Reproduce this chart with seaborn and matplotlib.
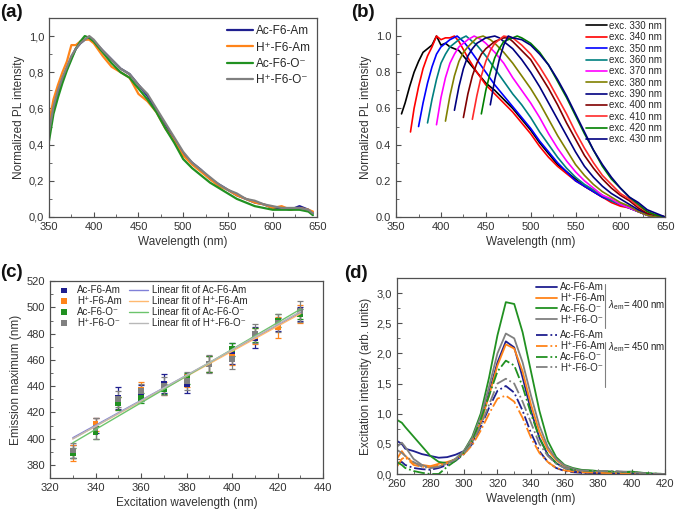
import matplotlib

matplotlib.use('Agg')

import matplotlib.pyplot as plt
from matplotlib.lines import Line2D
from matplotlib.ticker import FuncFormatter, MultipleLocator
import seaborn as sns

# ---------------- panel (a): normalized PL spectra ----------------
wl_a = [350, 355, 360, 365, 370, 375, 380, 385, 390, 395, 400, 410, 420, 430, 440, 450,
        460, 470, 480, 490, 500, 510, 520, 530, 540, 550, 560, 570, 580, 590, 600, 610,
        620, 630, 640, 645]
a_ac_am = [0.46, 0.60, 0.69, 0.76, 0.82, 0.88, 0.93, 0.96, 0.98, 0.99, 0.97, 0.92, 0.87, 0.82,
           0.79, 0.73, 0.67, 0.59, 0.51, 0.43, 0.35, 0.30, 0.26, 0.21, 0.18, 0.15, 0.12, 0.10,
           0.08, 0.07, 0.05, 0.05, 0.04, 0.06, 0.04, 0.02]
a_h_am = [0.52, 0.65, 0.73, 0.80, 0.86, 0.95, 0.95, 0.97, 0.98, 0.98, 0.96, 0.89, 0.83, 0.80,
          0.77, 0.68, 0.64, 0.58, 0.49, 0.42, 0.34, 0.29, 0.25, 0.21, 0.17, 0.15, 0.12, 0.10,
          0.08, 0.07, 0.05, 0.06, 0.04, 0.05, 0.04, 0.03]
a_ac_o = [0.42, 0.57, 0.66, 0.74, 0.81, 0.87, 0.93, 0.97, 1.00, 0.99, 0.97, 0.91, 0.85, 0.80,
          0.77, 0.71, 0.65, 0.58, 0.49, 0.41, 0.32, 0.27, 0.23, 0.19, 0.16, 0.13, 0.10, 0.08,
          0.06, 0.05, 0.04, 0.04, 0.04, 0.04, 0.03, 0.01]
a_h_o = [0.47, 0.61, 0.70, 0.77, 0.83, 0.89, 0.93, 0.96, 0.98, 1.00, 0.98, 0.92, 0.87, 0.82,
         0.79, 0.73, 0.68, 0.60, 0.52, 0.44, 0.36, 0.30, 0.26, 0.22, 0.18, 0.15, 0.13, 0.10,
         0.09, 0.07, 0.06, 0.05, 0.05, 0.05, 0.04, 0.02]

# ---------------- panel (b): spectra vs excitation ----------------
b_exc = [330, 340, 350, 360, 370, 380, 390, 400, 410, 420, 430]
b_wl_330 = [356, 360, 365, 370, 375, 380, 385, 390, 395, 400, 405, 410, 420, 430, 440, 450, 460,
            470, 480, 490, 500, 510, 520, 530, 540, 550, 560, 570, 580, 590, 600, 610, 620, 630,
            640, 650]
b_int_330 = [0.57, 0.63, 0.72, 0.80, 0.86, 0.91, 0.93, 0.95, 1.00, 0.95, 0.96, 0.94, 0.92, 0.86,
             0.80, 0.74, 0.70, 0.65, 0.60, 0.54, 0.48, 0.41, 0.35, 0.29, 0.25, 0.21, 0.17, 0.14,
             0.11, 0.09, 0.07, 0.05, 0.03, 0.01, 0.00, 0.00]
b_wl_340 = [366, 370, 375, 380, 385, 390, 395, 400, 405, 410, 415, 420, 430, 440, 450, 460, 470,
            480, 490, 500, 510, 520, 530, 540, 550, 560, 570, 580, 590, 600, 610, 620, 630, 640,
            650]
b_int_340 = [0.47, 0.60, 0.72, 0.82, 0.89, 0.94, 1.00, 0.98, 0.99, 0.99, 1.00, 0.97, 0.88, 0.80,
             0.73, 0.68, 0.63, 0.58, 0.52, 0.46, 0.39, 0.33, 0.28, 0.24, 0.20, 0.17, 0.14, 0.11,
             0.08, 0.06, 0.05, 0.03, 0.01, 0.01, 0.00]
b_wl_350 = [375, 380, 385, 390, 395, 400, 410, 418, 425, 430, 440, 450, 460, 470, 480, 490, 500,
            510, 520, 530, 540, 550, 560, 570, 580, 590, 600, 610, 620, 630, 640, 650]
b_int_350 = [0.50, 0.63, 0.74, 0.83, 0.90, 0.94, 0.98, 1.00, 0.97, 0.94, 0.87, 0.80, 0.73, 0.67,
             0.61, 0.55, 0.49, 0.42, 0.36, 0.30, 0.25, 0.20, 0.17, 0.14, 0.11, 0.09, 0.07, 0.05,
             0.03, 0.01, 0.00, 0.00]
b_wl_360 = [385, 390, 395, 400, 405, 410, 420, 428, 435, 440, 450, 460, 470, 480, 490, 500, 510,
            520, 530, 540, 550, 560, 570, 580, 590, 600, 610, 620, 630, 640, 650]
b_int_360 = [0.52, 0.65, 0.76, 0.85, 0.90, 0.94, 0.98, 1.00, 0.97, 0.95, 0.89, 0.82, 0.75, 0.68,
             0.62, 0.55, 0.47, 0.40, 0.33, 0.27, 0.22, 0.18, 0.15, 0.12, 0.09, 0.07, 0.05, 0.03,
             0.01, 0.00, 0.00]
b_wl_370 = [395, 400, 405, 410, 415, 420, 430, 437, 445, 450, 460, 470, 480, 490, 500, 510, 520,
            530, 540, 550, 560, 570, 580, 590, 600, 610, 620, 630, 640, 650]
b_int_370 = [0.51, 0.66, 0.77, 0.85, 0.90, 0.94, 0.98, 1.00, 0.98, 0.96, 0.91, 0.85, 0.77, 0.70,
             0.63, 0.55, 0.46, 0.38, 0.31, 0.25, 0.20, 0.16, 0.12, 0.10, 0.07, 0.05, 0.03, 0.01,
             0.00, 0.00]
b_wl_380 = [405, 410, 415, 420, 425, 430, 440, 447, 455, 460, 470, 480, 490, 500, 510, 520, 530,
            540, 550, 560, 570, 580, 590, 600, 610, 620, 630, 640, 650]
b_int_380 = [0.53, 0.67, 0.78, 0.86, 0.91, 0.94, 0.99, 1.00, 0.98, 0.96, 0.91, 0.85, 0.78, 0.71,
             0.63, 0.54, 0.45, 0.37, 0.29, 0.23, 0.18, 0.14, 0.11, 0.08, 0.06, 0.03, 0.01, 0.00,
             0.00]
b_wl_390 = [415, 420, 425, 430, 435, 440, 450, 460, 465, 470, 480, 490, 500, 510, 520, 530, 540,
            550, 560, 570, 580, 590, 600, 610, 620, 630, 640, 650]
b_int_390 = [0.59, 0.72, 0.82, 0.89, 0.93, 0.96, 0.99, 1.00, 0.99, 0.97, 0.93, 0.87, 0.80, 0.72,
             0.63, 0.54, 0.45, 0.36, 0.28, 0.22, 0.17, 0.13, 0.10, 0.07, 0.04, 0.02, 0.01, 0.00]
b_wl_400 = [425, 430, 435, 440, 445, 450, 460, 470, 475, 480, 490, 500, 510, 520, 530, 540, 550,
            560, 570, 580, 590, 600, 610, 620, 630, 640, 650]
b_int_400 = [0.55, 0.68, 0.78, 0.85, 0.90, 0.93, 0.97, 0.99, 0.99, 0.97, 0.92, 0.87, 0.79, 0.71,
             0.62, 0.52, 0.43, 0.34, 0.27, 0.21, 0.16, 0.12, 0.09, 0.05, 0.02, 0.01, 0.00]
b_wl_410 = [435, 440, 445, 450, 455, 460, 470, 480, 490, 500, 510, 520, 530, 540, 550, 560, 570,
            580, 590, 600, 610, 620, 630, 640, 650]
b_int_410 = [0.54, 0.67, 0.78, 0.86, 0.92, 0.96, 1.00, 0.99, 0.95, 0.90, 0.83, 0.75, 0.66, 0.57,
             0.47, 0.38, 0.30, 0.23, 0.18, 0.13, 0.10, 0.06, 0.03, 0.01, 0.00]
b_wl_420 = [445, 450, 455, 460, 465, 470, 480, 485, 490, 500, 510, 520, 530, 540, 550, 560, 570,
            580, 590, 600, 610, 620, 630, 640, 650]
b_int_420 = [0.57, 0.70, 0.80, 0.88, 0.93, 0.97, 0.99, 1.00, 0.99, 0.96, 0.91, 0.84, 0.75, 0.66,
             0.56, 0.46, 0.37, 0.28, 0.21, 0.16, 0.11, 0.07, 0.03, 0.01, 0.00]
b_wl_430 = [455, 460, 465, 470, 475, 480, 490, 500, 510, 520, 530, 540, 550, 560, 570, 580, 590,
            600, 610, 620, 630, 640, 650]
b_int_430 = [0.62, 0.76, 0.87, 0.95, 1.00, 0.99, 0.98, 0.95, 0.90, 0.84, 0.76, 0.67, 0.57, 0.47,
             0.37, 0.29, 0.22, 0.16, 0.11, 0.08, 0.04, 0.02, 0.00]
b_colors = ['#000000', '#ff0000', '#0000ff', '#008080', '#ff00ff', '#808000', '#000080',
            '#800000', '#ff2a2a', '#008000', '#000080']

# ---------------- panel (c): emission maximum vs excitation ----------------
exc_c = [330, 340, 350, 360, 370, 380, 390, 400, 410, 420, 430]
c_ac_am = [390, 410, 431, 435, 442, 442, 457, 465, 477, 487, 495]
c_ac_am_err = [5, 6, 8, 6, 7, 7, 6, 8, 8, 5, 5]
c_h_am = [389, 411, 427, 437, 438, 444, 457, 462, 478, 485, 495]
c_h_am_err = [6, 5, 5, 6, 5, 5, 6, 6, 6, 8, 7]
c_ac_o = [389, 405, 427, 431, 438, 446, 457, 468, 479, 490, 495]
c_ac_o_err = [4, 5, 5, 4, 4, 4, 6, 5, 5, 5, 4]
c_h_o = [391, 408, 430, 436, 440, 444, 457, 461, 480, 488, 497]
c_h_o_err = [6, 8, 6, 6, 7, 7, 7, 8, 7, 7, 8]

# ---------------- panel (d): excitation spectra ----------------
wl_d = [260, 263, 265, 270, 275, 280, 285, 290, 295, 300, 305, 310, 315, 320, 325, 330, 335,
        340, 345, 350, 355, 360, 365, 370, 380, 390, 400, 410, 420]
d400_ac_am = [0.55, 0.50, 0.42, 0.38, 0.33, 0.30, 0.27, 0.28, 0.32, 0.38, 0.55, 0.85, 1.35, 1.85,
              2.20, 2.10, 1.60, 1.05, 0.60, 0.32, 0.18, 0.10, 0.06, 0.03, 0.00, 0.00, 0.01, 0.00,
              0.00]
d400_h_am = [0.25, 0.38, 0.30, 0.18, 0.15, 0.13, 0.17, 0.20, 0.24, 0.35, 0.55, 0.85, 1.30, 1.80,
             2.15, 2.08, 1.70, 1.15, 0.70, 0.40, 0.23, 0.13, 0.08, 0.05, 0.03, 0.02, 0.01, 0.00,
             0.00]
d400_ac_o = [0.90, 0.85, 0.78, 0.62, 0.46, 0.30, 0.20, 0.18, 0.25, 0.38, 0.62, 1.00, 1.60, 2.30,
             2.85, 2.82, 2.35, 1.70, 1.05, 0.55, 0.28, 0.15, 0.10, 0.07, 0.05, 0.03, 0.04, 0.01,
             0.00]
d400_h_o = [0.45, 0.52, 0.45, 0.25, 0.15, 0.10, 0.12, 0.18, 0.25, 0.38, 0.60, 0.95, 1.45, 2.00,
            2.33, 2.25, 1.85, 1.30, 0.80, 0.45, 0.25, 0.14, 0.09, 0.05, 0.03, 0.02, 0.01, 0.00,
            0.00]
d450_ac_am = [0.18, 0.20, 0.15, 0.10, 0.08, 0.07, 0.10, 0.15, 0.22, 0.33, 0.50, 0.78, 1.10, 1.38,
              1.46, 1.35, 1.05, 0.68, 0.38, 0.20, 0.10, 0.05, 0.03, 0.02, 0.01, 0.00, 0.00, 0.00,
              0.00]
d450_h_am = [0.12, 0.25, 0.28, 0.15, 0.12, 0.12, 0.14, 0.18, 0.24, 0.33, 0.48, 0.72, 1.00, 1.25,
             1.30, 1.20, 0.93, 0.60, 0.35, 0.20, 0.10, 0.06, 0.04, 0.03, 0.02, 0.01, 0.00, 0.00,
             0.00]
d450_ac_o = [0.20, 0.15, 0.10, 0.05, 0.02, 0.00, 0.00, 0.12, 0.22, 0.35, 0.55, 0.90, 1.30, 1.70,
             1.88, 1.80, 1.45, 1.00, 0.60, 0.33, 0.18, 0.10, 0.07, 0.06, 0.05, 0.04, 0.03, 0.01,
             0.00]
d450_h_o = [0.40, 0.35, 0.30, 0.20, 0.12, 0.10, 0.12, 0.17, 0.24, 0.35, 0.52, 0.80, 1.15, 1.50,
            1.58, 1.50, 1.20, 0.85, 0.50, 0.30, 0.17, 0.10, 0.07, 0.06, 0.05, 0.05, 0.03, 0.01,
            0.00]

labels = ['Ac-F6-Am', 'H\u207a-F6-Am', 'Ac-F6-O\u207b', 'H\u207a-F6-O\u207b']
colors = ['#1f1f8f', '#ff8419', '#219121', '#808080']
fit_colors = ['#8080d8', '#ffb970', '#6cc46c', '#b8b8b8']


def comma(v, pos):
    return f'{v:.1f}'.replace('.', ',')


def style_axes(ax):
    for sp in ax.spines.values():
        sp.set_color('#505050')
        sp.set_linewidth(0.9)
    ax.tick_params(which='both', direction='in', colors='#505050', labelcolor='#333333',
                   labelsize=8, top=False, right=False)
    ax.tick_params(which='major', length=3.5, width=0.8)
    ax.tick_params(which='minor', length=2, width=0.6)


def main() -> None:
    sns.set_theme(style='ticks')
    plt.rcParams['font.family'] = ['Liberation Sans', 'DejaVu Sans']
    plt.rcParams['mathtext.fontset'] = 'custom'
    plt.rcParams['mathtext.rm'] = 'Liberation Sans'
    plt.rcParams['mathtext.it'] = 'Liberation Sans:italic'
    plt.rcParams['axes.labelcolor'] = '#333333'

    fig = plt.figure(figsize=(6.76, 5.13), dpi=100)
    ax_a = fig.add_axes([0.0725, 0.577, 0.397, 0.388])
    ax_b = fig.add_axes([0.586, 0.577, 0.398, 0.388])
    ax_c = fig.add_axes([0.074, 0.068, 0.404, 0.384])
    ax_d = fig.add_axes([0.587, 0.076, 0.397, 0.382])

    # (a)
    for vals, col, lab in zip([a_ac_am, a_h_am, a_ac_o, a_h_o], colors, labels):
        sns.lineplot(x=wl_a, y=vals, color=col, lw=1.6, label=lab, ax=ax_a)
    ax_a.set_xlim(350, 650)
    ax_a.set_ylim(0, 1.1)
    ax_a.xaxis.set_major_locator(MultipleLocator(50))
    ax_a.xaxis.set_minor_locator(MultipleLocator(25))
    ax_a.yaxis.set_major_locator(MultipleLocator(0.2))
    ax_a.yaxis.set_minor_locator(MultipleLocator(0.1))
    ax_a.yaxis.set_major_formatter(FuncFormatter(comma))
    ax_a.set_xlabel('Wavelength (nm)', fontsize=8.5, labelpad=3)
    ax_a.set_ylabel('Normalized PL intensity', fontsize=8.5, labelpad=3)
    ax_a.legend(loc='upper right', frameon=False, fontsize=8.5, handlelength=2.2,
                handletextpad=0.3, labelspacing=0.38, borderaxespad=0.2)
    style_axes(ax_a)

    # (b)
    b_wls = [b_wl_330, b_wl_340, b_wl_350, b_wl_360, b_wl_370, b_wl_380, b_wl_390,
             b_wl_400, b_wl_410, b_wl_420, b_wl_430]
    b_ints = [b_int_330, b_int_340, b_int_350, b_int_360, b_int_370, b_int_380, b_int_390,
              b_int_400, b_int_410, b_int_420, b_int_430]
    for exc, wl, vals, col in zip(b_exc, b_wls, b_ints, b_colors):
        sns.lineplot(x=wl, y=vals, color=col, lw=1.2, label=f'exc. {exc} nm', ax=ax_b)
    ax_b.set_xlim(350, 650)
    ax_b.set_ylim(0, 1.1)
    ax_b.xaxis.set_major_locator(MultipleLocator(50))
    ax_b.xaxis.set_minor_locator(MultipleLocator(25))
    ax_b.yaxis.set_major_locator(MultipleLocator(0.2))
    ax_b.yaxis.set_minor_locator(MultipleLocator(0.1))
    ax_b.set_xlabel('Wavelength (nm)', fontsize=8.5, labelpad=3)
    ax_b.set_ylabel('Normalized PL intensity', fontsize=8.5, labelpad=3)
    ax_b.legend(loc='upper right', frameon=False, fontsize=7, handlelength=2.2,
                handletextpad=0.2, labelspacing=0.14, borderaxespad=0.1, borderpad=0.2)
    style_axes(ax_b)

    # (c)
    c_vals = [c_ac_am, c_h_am, c_ac_o, c_h_o]
    c_errs = [c_ac_am_err, c_h_am_err, c_ac_o_err, c_h_o_err]
    for vals, errs, col in zip(c_vals, c_errs, colors):
        ax_c.errorbar(exc_c, vals, yerr=errs, fmt='none', ecolor=col, elinewidth=0.9,
                      capsize=2, capthick=0.9, zorder=2)
    for vals, col, lab in zip(c_vals, colors, labels):
        sns.scatterplot(x=exc_c, y=vals, marker='s', color=col, s=18, edgecolor='none',
                        label=lab, ax=ax_c, zorder=3)
    for vals, col, lab in zip(c_vals, fit_colors, labels):
        sns.regplot(x=exc_c, y=vals, scatter=False, ci=None, ax=ax_c,
                    line_kws={'color': col, 'lw': 1.0, 'zorder': 4},
                    label='Linear fit of ' + lab)
    ax_c.set_xlim(320, 440)
    ax_c.set_ylim(370, 520)
    ax_c.xaxis.set_major_locator(MultipleLocator(20))
    ax_c.xaxis.set_minor_locator(MultipleLocator(10))
    ax_c.yaxis.set_major_locator(MultipleLocator(20))
    ax_c.yaxis.set_minor_locator(MultipleLocator(10))
    ax_c.set_xlabel('Excitation wavelength (nm)', fontsize=8.5, labelpad=3)
    ax_c.set_ylabel('Emission maximum (nm)', fontsize=8.5, labelpad=3)
    h, l = ax_c.get_legend_handles_labels()
    ax_c.legend(h, l, loc='upper left', ncol=2, frameon=False, fontsize=7,
                handlelength=2.0, handletextpad=0.4, labelspacing=0.1,
                columnspacing=0.7, borderaxespad=0.2, borderpad=0.2)
    style_axes(ax_c)

    # (d)
    d400 = [d400_ac_am, d400_h_am, d400_ac_o, d400_h_o]
    d450 = [d450_ac_am, d450_h_am, d450_ac_o, d450_h_o]
    for vals, col, lab in zip(d400, colors, labels):
        sns.lineplot(x=wl_d, y=vals, color=col, lw=1.3, label=lab, ax=ax_d)
    for vals, col, lab in zip(d450, colors, labels):
        sns.lineplot(x=wl_d, y=vals, color=col, lw=1.3, ls='-.', label=lab, ax=ax_d)
    ax_d.set_xlim(260, 420)
    ax_d.set_ylim(0, 3.25)
    ax_d.xaxis.set_major_locator(MultipleLocator(20))
    ax_d.xaxis.set_minor_locator(MultipleLocator(10))
    ax_d.yaxis.set_major_locator(MultipleLocator(0.5))
    ax_d.yaxis.set_minor_locator(MultipleLocator(0.25))
    ax_d.yaxis.set_major_formatter(FuncFormatter(comma))
    ax_d.set_xlabel('Wavelength (nm)', fontsize=8.5, labelpad=3)
    ax_d.set_ylabel('Excitation intensity (arb. units)', fontsize=8.5, labelpad=3)
    h, l = ax_d.get_legend_handles_labels()
    leg1 = ax_d.legend(h[:4], l[:4], loc='upper left', bbox_to_anchor=(0.515, 0.985),
                       frameon=False, fontsize=7, handlelength=2.2, handletextpad=0.3,
                       labelspacing=0.1, borderaxespad=0, borderpad=0.1)
    ax_d.add_artist(leg1)
    ax_d.legend(h[4:], l[4:], loc='upper left', bbox_to_anchor=(0.515, 0.74),
                frameon=False, fontsize=7, handlelength=2.2, handletextpad=0.3,
                labelspacing=0.1, borderaxespad=0, borderpad=0.1)
    style_axes(ax_d)
    fig.add_artist(Line2D([0.895, 0.895], [0.446, 0.361], color='#808080', lw=0.8))
    fig.add_artist(Line2D([0.895, 0.895], [0.333, 0.246], color='#808080', lw=0.8))
    fig.text(0.899, 0.405, r'$\lambda_{\rm em}$= 400 nm', fontsize=7, va='center',
             color='#222222')
    fig.text(0.899, 0.323, r'$\lambda_{\rm em}$= 450 nm', fontsize=7, va='center',
             color='#222222')

    # panel letters
    for x, y, t in [(0.0, 0.976, '(a)'), (0.519, 0.976, '(b)'),
                    (0.0, 0.468, '(c)'), (0.509, 0.466, '(d)')]:
        fig.text(x, y, t, fontsize=13.5, fontweight='bold', va='center', color='#111111')

    fig.savefig('out.png', dpi=100)
    plt.close(fig)


if __name__ == '__main__':
    main()
